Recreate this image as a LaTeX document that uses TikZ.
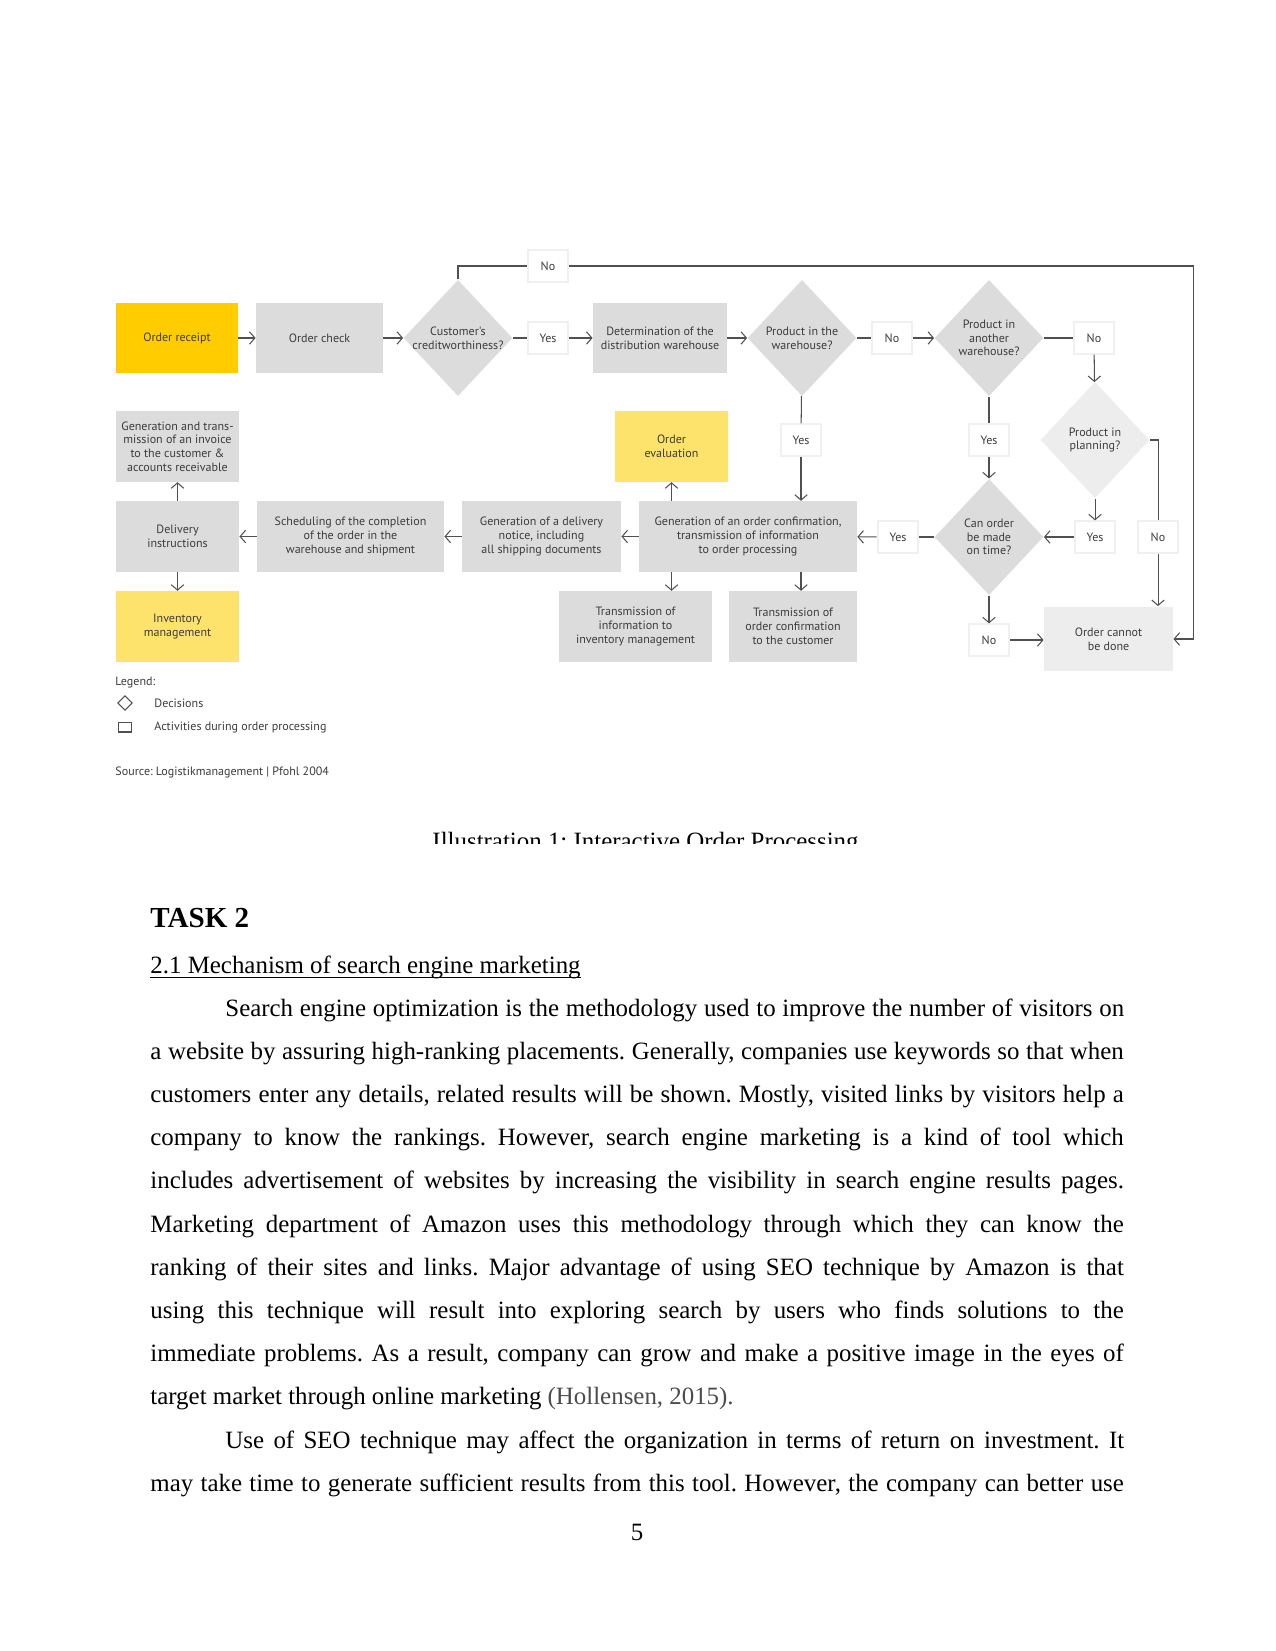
\documentclass[tikz,border=0pt]{standalone}
\usepackage{fontspec}
\setmainfont{Liberation Serif}
\newfontfamily\diafont{PT Sans}
\usetikzlibrary{shapes.geometric,arrows.meta}
\definecolor{ordyellow}{HTML}{FFCC00}
\definecolor{paleyellow}{HTML}{FDE26C}
\definecolor{boxgray}{HTML}{DCDCDC}
\definecolor{palegray}{HTML}{EDEDED}
\definecolor{inkgray}{HTML}{3C3C3C}
\definecolor{linegray}{HTML}{505050}
\frenchspacing

\begin{document}
\begin{tikzpicture}[x=0.4818pt,y=-0.4818pt,
  font=\diafont\fontsize{5.8}{6.6}\selectfont,
  activity/.style={rectangle, fill=boxgray, text=inkgray, align=center, inner sep=1pt, minimum height=34pt},
  decision/.style={diamond, fill=boxgray, inner sep=0pt, minimum width=52.5pt, minimum height=56pt},
  dtext/.style={text=inkgray, align=center},
  answer/.style={rectangle, fill=white, draw=black!6, line width=1pt, text=inkgray, minimum width=19.5pt, minimum height=15pt, inner sep=0pt},
  link/.style={draw=linegray, line width=0.5pt},
  arrow/.style={link, -{Straight Barb[length=2.6pt,width=6pt]}},
  legendtext/.style={anchor=west, inner sep=0pt, text=inkgray},
  bodyline/.style={anchor=base west, inner sep=0pt, font=\rmfamily\fontsize{12}{14}\selectfont}
]
\fill[white] (0,0) rectangle (1275,1651);
\useasboundingbox (0,0) rectangle (1275,1651);

% first row
\node[activity, fill=ordyellow, minimum width=58.8pt] (receipt) at (177,338) {Order receipt};
\node[activity, minimum width=61.2pt] (check) at (319.5,338) {Order check};
\node[decision, label={[dtext]center:{Customer's\\creditworthiness?}}] (cust) at (458,338) {};
\node[answer] (no1) at (548,266) {No};
\node[answer] (yes1) at (548,338) {Yes};
\node[activity, minimum width=64.6pt] (determ) at (660,338) {Determination of the\\distribution warehouse};
\node[decision, label={[dtext]center:{Product in the\\warehouse?}}] (inwh) at (802,338) {};
\node[answer] (no2) at (892,338) {No};
\node[decision, label={[dtext]center:{Product in\\another\\warehouse?}}] (another) at (989,338) {};
\node[answer] (no3) at (1094,338) {No};

% middle rows
\node[activity, minimum width=59.3pt] (invoice) at (177.5,446.5) {Generation and trans-\\mission of an invoice\\to the customer \&\\accounts receivable};
\node[activity, fill=paleyellow, minimum width=54.4pt] (eval) at (671.5,446.5) {Order\\evaluation};
\node[answer] (yes2) at (801,440) {Yes};
\node[answer] (yes3) at (989,440) {Yes};
\node[decision, fill=palegray, label={[dtext]center:{Product in\\planning?}}] (planning) at (1095,440) {};

\node[activity, minimum width=59.3pt] (delivery) at (177.5,536.5) {Delivery\\instructions};
\node[activity, minimum width=90.1pt] (sched) at (350.5,536.5) {Scheduling of the completion\\of the order in the\\warehouse and shipment};
\node[activity, minimum width=76.6pt] (gendel) at (541.5,536.5) {Generation of a delivery\\notice, including\\all shipping documents};
\node[activity, minimum width=105pt] (conf) at (748,536.5) {Generation of an order confirmation,\\transmission of information\\to order processing};
\node[answer] (yes4) at (898,537) {Yes};
\node[decision, label={[dtext]center:{Can order\\be made\\on time?}}] (canorder) at (989,537) {};
\node[answer] (yes5) at (1095,537) {Yes};
\node[answer] (no4) at (1158,537) {No};

% bottom row
\node[activity, fill=paleyellow, minimum width=59.3pt] (inventory) at (177.5,626.5) {Inventory\\management};
\node[activity, minimum width=73.7pt] (transinfo) at (635.5,626.5) {Transmission of\\information to\\inventory management};
\node[activity, minimum width=61.7pt] (transconf) at (793,626.5) {Transmission of\\order confirmation\\to the customer};
\node[answer] (no5) at (989,640) {No};
\node[activity, fill=palegray, minimum width=62.2pt, minimum height=31.3pt] (cannot) at (1108.5,639) {Order cannot\\be done};
\coordinate (loopcorner) at (1193,266);

\draw[arrow] (receipt) -- (check);
\draw[arrow] (check) -- (cust);
\draw[link] (cust) -- (yes1);
\draw[arrow] (yes1) -- (determ);
\draw[arrow] (determ) -- (inwh);
\draw[link] (inwh) -- (no2);
\draw[arrow] (no2) -- (another);
\draw[link] (another) -- (no3);
\draw[arrow] (no3) -- (planning);
\draw[link] (cust.north) |- (no1);
\draw[arrow] (no1) -- (loopcorner) |- (cannot.east);
\draw[link] (inwh) -- (yes2);
\draw[arrow] (yes2) -- (yes2 |- conf.north);
\draw[link] (another) -- (yes3);
\draw[arrow] (yes3) -- (canorder);
\draw[arrow] (planning) -- (yes5);
\draw[arrow] (yes5) -- (canorder);
\draw[link] (planning.east) -| (no4);
\draw[arrow] (no4) -- (no4 |- cannot.north);
\draw[link] (canorder) -- (yes4);
\draw[arrow] (yes4) -- (conf);
\draw[arrow] (canorder) -- (no5);
\draw[arrow] (no5) -- (no5 -| cannot.west);
\draw[arrow] (eval |- conf.north) -- (eval);
\draw[arrow] (conf) -- (gendel);
\draw[arrow] (gendel) -- (sched);
\draw[arrow] (sched) -- (delivery);
\draw[arrow] (delivery) -- (invoice);
\draw[arrow] (delivery) -- (inventory);
\draw[arrow] (eval |- conf.south) -- (eval |- transinfo.north);
\draw[arrow] (yes2 |- conf.south) -- (yes2 |- transconf.north);

% legend and source
\node[legendtext] (legend) at (115,683) {Legend:};
\node[diamond, draw=linegray, line width=0.5pt, minimum width=7pt, minimum height=7pt, inner sep=0pt] (legdia) at (125,703) {};
\node[legendtext] (legdec) at (154,703) {Decisions};
\node[rectangle, draw=linegray, line width=0.5pt, minimum width=6.7pt, minimum height=4.8pt, inner sep=0pt] (legbox) at (125,727) {};
\node[legendtext] (legact) at (154,727) {Activities during order processing};
\node[legendtext] (source) at (115,772) {Source: Logistikmanagement | Pfohl 2004};

% caption, cut off at the bottom
\begin{scope}
\clip (0,0) rectangle (1275,843);
\node[anchor=base, inner sep=0pt, font=\rmfamily\fontsize{12}{14}\selectfont] (caption) at (645.5,849.5) {Illustration 1: Interactive Order Processing};
\end{scope}

% page text
\node[bodyline, font=\rmfamily\bfseries\fontsize{14}{16}\selectfont] (task) at (150,927) {TASK 2};
\node[bodyline] (heading) at (150,973) {2.1 Mechanism of search engine marketing};
\draw[line width=0.6pt] ([yshift=-2pt]heading.base west) -- ([yshift=-2pt]heading.base east);
\node[bodyline] (l1) at (225,1016) {\makebox[433pt][s]{Search engine optimization is the methodology used to improve the number of visitors on}};
\node[bodyline] (l2) at (150,1059.2) {\makebox[469pt][s]{a website by assuring high-ranking placements. Generally, companies use keywords so that when}};
\node[bodyline] (l3) at (150,1102.4) {\makebox[469pt][s]{customers enter any details, related results will be shown. Mostly, visited links by visitors help a}};
\node[bodyline] (l4) at (150,1145.6) {\makebox[469pt][s]{company to know the rankings. However, search engine marketing is a kind of tool which}};
\node[bodyline] (l5) at (150,1188.8) {\makebox[469pt][s]{includes advertisement of websites by increasing the visibility in search engine results pages.}};
\node[bodyline] (l6) at (150,1232) {\makebox[469pt][s]{Marketing department of Amazon uses this methodology through which they can know the}};
\node[bodyline] (l7) at (150,1275.2) {\makebox[469pt][s]{ranking of their sites and links. Major advantage of using SEO technique by Amazon is that}};
\node[bodyline] (l8) at (150,1318.4) {\makebox[469pt][s]{using this technique will result into exploring search by users who finds solutions to the}};
\node[bodyline] (l9) at (150,1361.6) {\makebox[469pt][s]{immediate problems. As a result, company can grow and make a positive image in the eyes of}};
\node[bodyline] (l10) at (150,1404.8) {target market through online marketing \textcolor{black!70}{(Hollensen, 2015).}};
\node[bodyline] (l11) at (225,1448) {\makebox[433pt][s]{Use of SEO technique may affect the organization in terms of return on investment. It}};
\node[bodyline] (l12) at (150,1491.2) {\makebox[469pt][s]{may take time to generate sufficient results from this tool. However, the company can better use}};
\node[anchor=base, inner sep=0pt, font=\rmfamily\fontsize{12}{14}\selectfont] (pagenum) at (637,1540) {5};
\end{tikzpicture}
\end{document}
